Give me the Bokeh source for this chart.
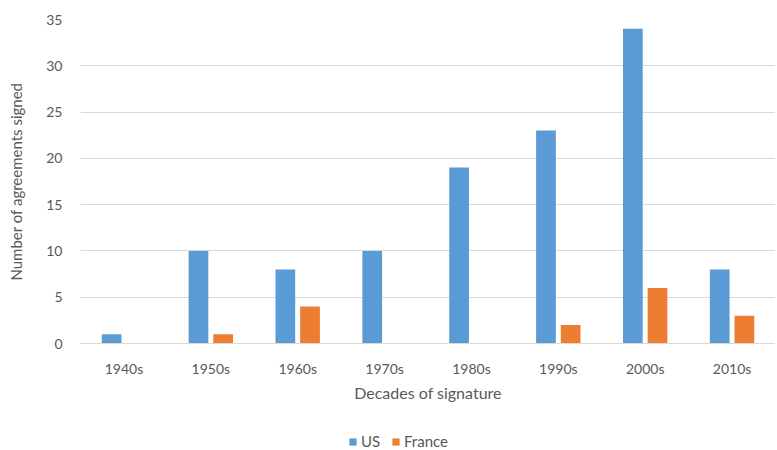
from bokeh.plotting import figure
from bokeh.models import ColumnDataSource, FactorRange, Range1d, FixedTicker, Legend, LegendItem
from bokeh.layouts import column
from bokeh.transform import dodge
from bokeh.embed import file_html
from bokeh.resources import INLINE

decades = ["1940s", "1950s", "1960s", "1970s", "1980s", "1990s", "2000s", "2010s"]
us = [1, 10, 8, 10, 19, 23, 34, 8]
france = [0, 1, 4, 0, 0, 2, 6, 3]
y_ticks = [0, 5, 10, 15, 20, 25, 30, 35]

FONT = "Lato"
TXT = "#595959"
GRID = "#D9D9D9"
US_COLOR = "#5B9BD5"
FR_COLOR = "#ED7D31"

src = ColumnDataSource(dict(decade=decades, us=us, france=france))

p = figure(x_range=FactorRange(*decades), y_range=Range1d(0, 35),
           width=775, height=414, output_backend="svg", toolbar_location=None,
           min_border_left=80, min_border_top=19, min_border_right=0, min_border_bottom=71)
p.outline_line_color = None
p.background_fill_color = "white"
p.border_fill_color = "white"
p.x_range.range_padding = 0.0

r_us = p.vbar(x=dodge("decade", -0.142, range=p.x_range), top="us", width=0.227,
              source=src, color=US_COLOR, line_color=None)
r_fr = p.vbar(x=dodge("decade", 0.142, range=p.x_range), top="france", width=0.227,
              source=src, color=FR_COLOR, line_color=None)

p.xgrid.grid_line_color = None
p.ygrid.grid_line_color = GRID
p.ygrid.grid_line_width = 1
p.yaxis.ticker = FixedTicker(ticks=y_ticks)

for ax in (p.xaxis[0], p.yaxis[0]):
    ax.major_tick_line_color = None
    ax.minor_tick_line_color = None
    ax.major_label_text_font = FONT
    ax.major_label_text_color = TXT
    ax.major_label_text_font_size = "14px"
    ax.axis_label_text_font = FONT
    ax.axis_label_text_color = TXT
    ax.axis_label_text_font_style = "normal"

p.xaxis.axis_label_text_font_size = "16px"
p.yaxis.axis_label_text_font_size = "15px"
p.yaxis.axis_line_color = None
p.xaxis.axis_line_color = GRID
p.xaxis.axis_label = "Decades of signature"
p.yaxis.axis_label = "Number of agreements signed"
p.xaxis.major_label_standoff = 10
p.xaxis.axis_label_standoff = 3
p.yaxis.major_label_standoff = 12
p.yaxis.axis_label_standoff = 18

# Legend strip below the chart
lg = figure(x_range=p.x_range, y_range=p.y_range, width=775, height=36,
            output_backend="svg", toolbar_location=None,
            x_axis_type=None, y_axis_type=None,
            min_border_left=0, min_border_right=0, min_border_top=0, min_border_bottom=0)
lg.outline_line_color = None
lg.grid.visible = False
l_us = lg.vbar(x=dodge("decade", -0.142, range=p.x_range), top="us", width=0.227,
               source=src, color=US_COLOR, line_color=None, visible=False)
l_fr = lg.vbar(x=dodge("decade", 0.142, range=p.x_range), top="france", width=0.227,
               source=src, color=FR_COLOR, line_color=None, visible=False)

legend = Legend(items=[LegendItem(label="US", renderers=[l_us]),
                       LegendItem(label="France", renderers=[l_fr])],
                orientation="horizontal", location=(268, 0))
legend.label_text_font = FONT
legend.label_text_color = TXT
legend.label_text_font_size = "15px"
legend.glyph_width = 9
legend.glyph_height = 9
legend.label_standoff = 4
legend.spacing = 10
legend.border_line_color = None
legend.background_fill_alpha = 0
legend.margin = 0
legend.padding = 2
lg.add_layout(legend)

open("out.html", "w").write(file_html(column(p, lg), INLINE))
